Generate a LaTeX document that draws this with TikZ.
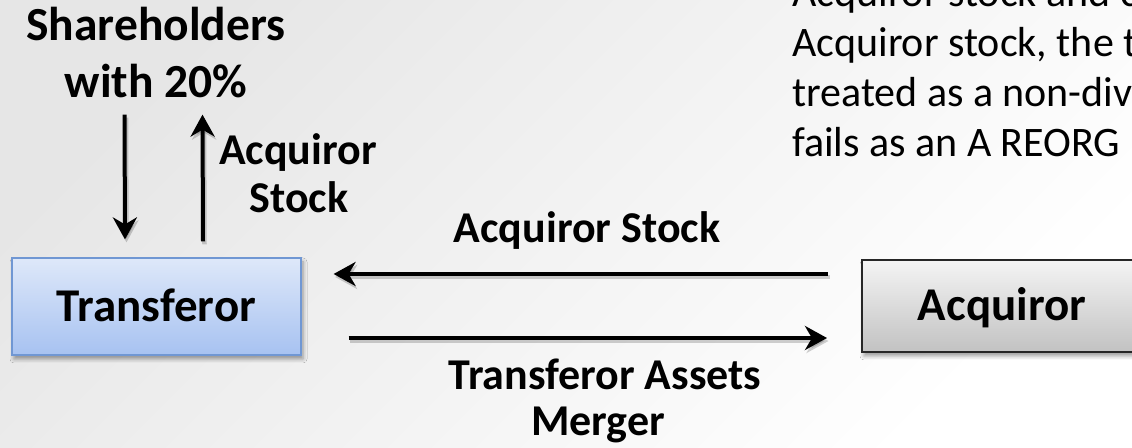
\documentclass[tikz,border=0pt]{standalone}
\usepackage{fontspec}
\setmainfont{Carlito}
\usetikzlibrary{arrows.meta,shadows.blur}
\definecolor{bgGray}{HTML}{E6E6E6}
\definecolor{tfTop}{HTML}{DEE8F9}
\definecolor{tfBot}{HTML}{A7C2F1}
\definecolor{tfLine}{HTML}{7097D3}
\definecolor{acTop}{HTML}{F4F4F4}
\definecolor{acBot}{HTML}{C2C2C2}
\tikzset{
  lbl/.style={font=\bfseries\fontsize{44}{53}\selectfont, inner sep=0pt, anchor=base},
  head/.style={font=\bfseries\fontsize{47.5}{57}\selectfont, inner sep=0pt, anchor=base},
  note/.style={font=\fontsize{42}{50}\selectfont, inner sep=0pt, anchor=base west},
  flow/.style={line width=4pt, -{Stealth[length=22pt,width=24pt,inset=7pt]},
    preaction={draw=black, opacity=.18, line width=4.5pt,
      transform canvas={shift={(1.5pt,-3pt)}}}},
  party/.style={inner sep=0pt, text height=30pt, text depth=0pt,
    font=\bfseries\fontsize{47}{56}\selectfont,
    blur shadow={shadow xshift=2pt, shadow yshift=-4pt, shadow blur radius=4pt, shadow opacity=40}},
  tbox/.style={party, draw=tfLine, line width=1.2pt, top color=tfTop, bottom color=tfBot,
    minimum width=289pt, minimum height=97pt},
  abox/.style={party, draw=black!85, line width=2pt, top color=acTop, bottom color=acBot,
    minimum width=280pt, minimum height=92pt},
}
\begin{document}
\begin{tikzpicture}[x=1pt,y=1pt]
  % slide background
  \useasboundingbox (0,0) rectangle (1132,447);
  \shade[top color=bgGray, bottom color=white, shading angle=45] (0,0) rectangle (1132,447);
  \clip (0,0) rectangle (1132,447);

  % parties
  \node[tbox] (tr) at (156.5,140.5) {Transferor};
  \node[abox] (ac) at (1002,141) {Acquiror};

  % shareholders
  \node[head] (sh1) at (156,406) {Shareholders};
  \node[head] (sh2) at (156,349) {with 20\%};

  % shareholder exchange
  \draw[flow] ([xshift=-31.5pt,yshift=-16pt]sh2.south) -- ([xshift=-31.5pt,yshift=18pt]tr.north);
  \draw[flow] ([xshift=46.5pt,yshift=16pt]tr.north) -- ([xshift=46.5pt,yshift=-16pt]sh2.south);
  \node[lbl] (as1) at (298,282) {Acquiror};
  \node[lbl] (as2) at (299,234) {Stock};

  % merger exchange
  \draw[flow] ([xshift=-33pt,yshift=32pt]ac.west) -- ([xshift=32pt,yshift=32.5pt]tr.east);
  \draw[flow] ([xshift=47pt,yshift=-31.5pt]tr.east) -- ([xshift=-34pt,yshift=-32pt]ac.west);
  \node[lbl] (aqs) at (587,204) {Acquiror Stock};
  \node[lbl] (ta) at (605,57) {Transferor Assets};
  \node[lbl] (mg) at (598,12) {Merger};

  % explanatory note
  \node[note] (n1) at (792,440) {Acquiror stock and c};
  \node[note] (n2) at (792,390) {Acquiror stock, the t};
  \node[note] (n3) at (792,340) {treated as a non-div};
  \node[note] (n4) at (792,290) {fails as an A REORG};
\end{tikzpicture}
\end{document}
